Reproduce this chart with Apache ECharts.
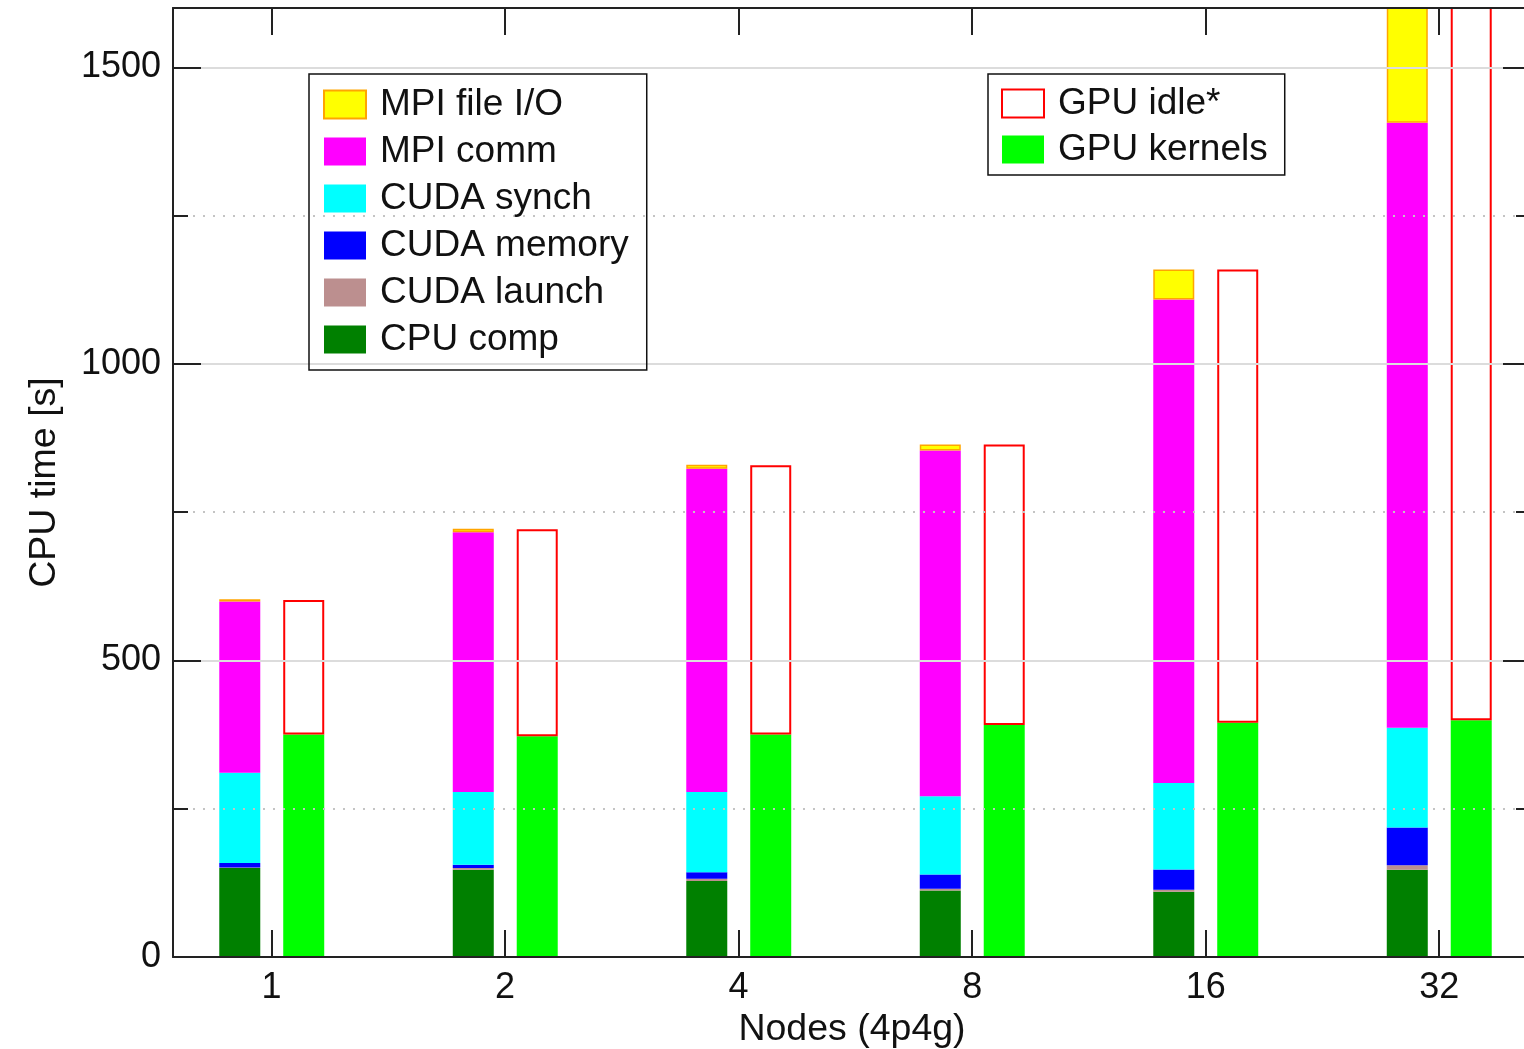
<!DOCTYPE html>
<html>
<head>
<meta charset="utf-8">
<script src="https://cdn.jsdelivr.net/npm/echarts@6/dist/echarts.min.js"></script>
<style>
html,body{margin:0;padding:0;background:#fff;}
#chart{width:1524px;height:1049px;}
</style>
</head>
<body>
<div id="chart"></div>
<script>
// ---- data (CPU time in seconds) ----
const categories = ['1', '2', '4', '8', '16', '32'];
const cpuComp    = [150, 147, 128, 112, 110, 147];
const cudaLaunch = [1, 3, 4, 3, 3.5, 7.5];
const cudaMemory = [7.5, 5.5, 11, 24, 34, 64];
const cudaSynch  = [152, 122.5, 135, 132, 146, 168];
const mpiComm    = [289, 438, 545, 583, 815, 1020];
const mpiFileIO  = [3.5, 6, 7, 10, 50.5, 300];
const gpuKernels = [375, 372, 375, 391, 395, 399];
const gpuIdle    = [227, 349, 454, 473, 764, 1308];
const yTicks     = [0, 500, 1000, 1500];

const FONT = '"Liberation Sans", Arial, sans-serif';
const AX = '#222';
const xFmt = v => {
  const r = Math.round(v);
  return Math.abs(v - r) < 1e-6 && r >= 1 && r <= categories.length ? categories[r - 1] : '';
};
const yFmt = v => yTicks.indexOf(v) >= 0 ? String(v) : '';

function bar(name, data, stack, style) {
  return {
    name, type: 'bar', stack, data,
    xAxisIndex: 2, yAxisIndex: 2,
    barWidth: 41, barGap: '56%', z: 2,
    itemStyle: Object.assign({borderWidth: 0}, style),
    emphasis: {disabled: true}
  };
}

const chart = echarts.init(document.getElementById('chart'), null, {renderer: 'canvas'});
const xFrame = {type: 'value', min: 0.578, max: 6.393, splitNumber: 6, gridIndex: 0};
const yCommon = {type: 'value', min: 0, max: 1600, interval: 500};
const line = {show: true, onZero: false, lineStyle: {color: AX, width: 2}};
const tick = {show: true, inside: true, lineStyle: {color: AX, width: 2}};

chart.setOption({
  animation: false,
  backgroundColor: '#fff',
  textStyle: {fontFamily: FONT},
  grid: [
    // frame grid (axes, ticks, labels, grid lines)
    {left: 173, top: 8, width: 1358, height: 949, outerBoundsMode: 'none', containLabel: false},
    // bar grid: category bands aligned to the frame's tick positions
    {left: 155, top: 8, width: 1401, height: 949, outerBoundsMode: 'none', containLabel: false}
  ],
  legend: [
    {
      data: ['MPI file I/O', 'MPI comm', 'CUDA synch', 'CUDA memory', 'CUDA launch', 'CPU comp'],
      orient: 'vertical', left: 309, top: 74,
      padding: [12, 18, 12, 14],
      itemWidth: 42, itemHeight: 28, itemGap: 10, icon: 'rect',
      borderColor: '#111', borderWidth: 1.5,
      selectedMode: false,
      textStyle: {fontFamily: FONT, fontSize: 37, color: '#111', padding: [0, 0, 0, 9]}
    },
    {
      data: ['GPU idle*', 'GPU kernels'],
      orient: 'vertical', left: 988, top: 74,
      padding: [11, 17, 7, 13],
      itemWidth: 42, itemHeight: 28, itemGap: 9, icon: 'rect',
      borderColor: '#111', borderWidth: 1.5,
      selectedMode: false,
      textStyle: {fontFamily: FONT, fontSize: 37, color: '#111', padding: [0, 0, 0, 9]}
    }
  ],
  xAxis: [
    Object.assign({}, xFrame, {
      position: 'bottom', z: 3,
      name: 'Nodes (4p4g)', nameLocation: 'middle', nameGap: 49,
      nameTextStyle: {fontFamily: FONT, fontSize: 37.5, color: '#111'},
      axisLine: line,
      axisTick: Object.assign({length: 27}, tick),
      axisLabel: {show: true, formatter: xFmt, fontFamily: FONT, fontSize: 36, color: '#111', margin: 13},
      splitLine: {show: false}
    }),
    Object.assign({}, xFrame, {
      position: 'top', z: 3,
      axisLine: line,
      axisTick: Object.assign({length: 27}, tick),
      axisLabel: {show: false},
      splitLine: {show: false}
    }),
    {
      type: 'category', data: categories, gridIndex: 1,
      axisLine: {show: false}, axisTick: {show: false}, axisLabel: {show: false}, splitLine: {show: false}
    }
  ],
  yAxis: [
    Object.assign({}, yCommon, {
      gridIndex: 0, position: 'left', z: 3,
      name: 'CPU time [s]', nameLocation: 'middle', nameGap: 109, nameRotate: 90,
      nameTextStyle: {fontFamily: FONT, fontSize: 37.5, color: '#111'},
      axisLine: line,
      axisTick: Object.assign({length: 28}, tick),
      minorTick: {show: true, splitNumber: 2, length: 15, lineStyle: {color: AX, width: 2}},
      axisLabel: {formatter: yFmt, fontFamily: FONT, fontSize: 36, color: '#111', margin: 12, padding: [5, 0, 0, 0]},
      splitLine: {show: false}
    }),
    Object.assign({}, yCommon, {
      gridIndex: 0, position: 'right', z: 3,
      axisLine: line,
      axisTick: Object.assign({length: 28}, tick),
      minorTick: {show: true, splitNumber: 2, length: 15, lineStyle: {color: AX, width: 2}},
      axisLabel: {show: false},
      splitLine: {show: true, lineStyle: {color: '#dcdcdc', width: 2}},
      minorSplitLine: {show: true, lineStyle: {color: '#c4c4c4', width: 2, type: [2, 8]}}
    }),
    Object.assign({}, yCommon, {
      gridIndex: 1, show: false,
      axisLine: {show: false}, axisTick: {show: false}, axisLabel: {show: false}, splitLine: {show: false}
    })
  ],
  series: [
    bar('CPU comp', cpuComp, 'cpu', {color: '#008000'}),
    bar('CUDA launch', cudaLaunch, 'cpu', {color: '#bc8f8f'}),
    bar('CUDA memory', cudaMemory, 'cpu', {color: '#0000ff'}),
    bar('CUDA synch', cudaSynch, 'cpu', {color: '#00ffff'}),
    bar('MPI comm', mpiComm, 'cpu', {color: '#ff00ff'}),
    bar('MPI file I/O', mpiFileIO, 'cpu', {color: '#ffff00', borderColor: '#ffa500', borderWidth: 1.5}),
    bar('GPU kernels', gpuKernels, 'gpu', {color: '#00ff00'}),
    bar('GPU idle*', gpuIdle, 'gpu', {color: '#ffffff', borderColor: '#ff0000', borderWidth: 2})
  ]
});
</script>
</body>
</html>
